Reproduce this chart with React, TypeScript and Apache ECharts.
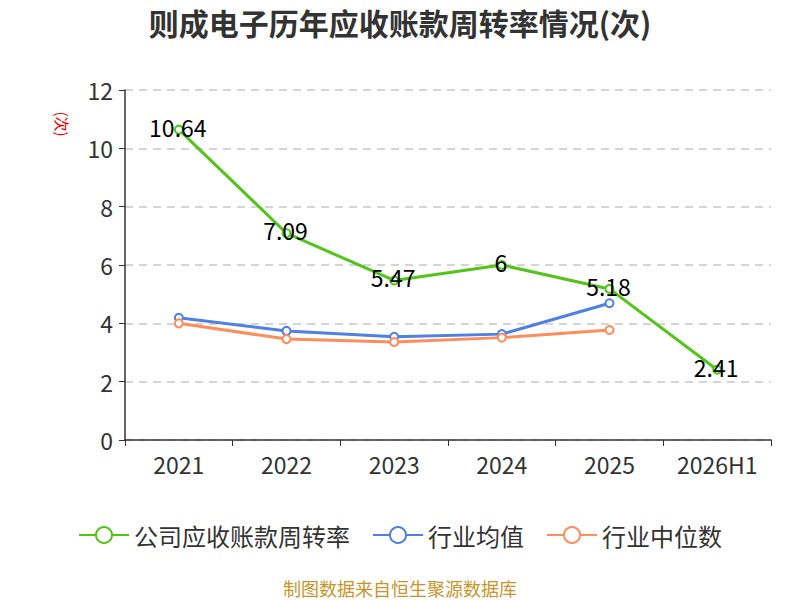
import React, { useEffect, useRef } from 'react';
import * as echarts from 'echarts';

const categories = ['2021', '2022', '2023', '2024', '2025', '2026H1'];
const companyTurnover = [10.64, 7.09, 5.47, 6, 5.18, 2.41];
const industryAverage = [4.19, 3.74, 3.54, 3.63, 4.69];
const industryMedian = [4.0, 3.46, 3.36, 3.51, 3.77];

const FONT = '"Noto Sans CJK SC", "Noto Sans", sans-serif';

const App: React.FC = () => {
  const chartRef = useRef<HTMLDivElement>(null);

  useEffect(() => {
    if (!chartRef.current) {
      return;
    }
    document.body.style.margin = '0';
    const chart = echarts.init(chartRef.current, null, { renderer: 'svg' });

    const lineSeries = (name: string, data: number[], color: string, withLabel: boolean) => ({
      name,
      type: 'line' as const,
      data,
      symbol: 'emptyCircle',
      symbolSize: 8,
      lineStyle: { color, width: 3 },
      itemStyle: { color, borderWidth: 1.5 },
      label: withLabel
        ? {
            show: true,
            position: 'inside' as const,
            offset: [-1, -3],
            color: '#000',
            fontSize: 23,
            fontFamily: FONT
          }
        : { show: false }
    });

    chart.setOption({
      animation: false,
      backgroundColor: '#fff',
      textStyle: { fontFamily: FONT },
      title: {
        text: '则成电子历年应收账款周转率情况(次)',
        left: 'center',
        top: 2,
        textStyle: { fontSize: 30, fontWeight: 'bold', color: '#333', fontFamily: FONT }
      },
      grid: { left: 125, right: 29, top: 90, bottom: 160 },
      legend: {
        bottom: 48,
        left: 'center',
        itemWidth: 50,
        itemHeight: 20,
        itemGap: 22,
        textStyle: { fontSize: 24, color: '#333', fontFamily: FONT },
        data: ['公司应收账款周转率', '行业均值', '行业中位数']
      },
      xAxis: {
        type: 'category',
        data: categories,
        boundaryGap: true,
        axisLine: { lineStyle: { color: '#333', width: 1.5 } },
        axisTick: { show: true, length: 6, lineStyle: { color: '#333' } },
        axisLabel: { fontSize: 23, color: '#333', margin: 12, fontFamily: FONT }
      },
      yAxis: {
        type: 'value',
        min: 0,
        max: 12,
        interval: 2,
        axisLine: { show: true, lineStyle: { color: '#333', width: 1.5 } },
        axisTick: { show: true, length: 6, lineStyle: { color: '#333' } },
        axisLabel: { fontSize: 23, color: '#333', margin: 12, fontFamily: FONT },
        splitLine: { lineStyle: { color: '#c8c8c8', type: [8, 6], width: 1.5 } }
      },
      series: [
        lineSeries('公司应收账款周转率', companyTurnover, '#52c41a', true),
        lineSeries('行业均值', industryAverage, '#4e80e6', false),
        lineSeries('行业中位数', industryMedian, '#ff8c5c', false)
      ],
      graphic: [
        {
          type: 'text',
          x: 62,
          y: 124,
          rotation: -Math.PI / 2,
          style: {
            text: '(次)',
            fill: '#e00',
            fontSize: 15,
            fontFamily: FONT,
            align: 'center',
            verticalAlign: 'middle'
          }
        },
        {
          type: 'text',
          left: 'center',
          top: 579,
          style: {
            text: '制图数据来自恒生聚源数据库',
            fill: '#c8952a',
            fontSize: 18,
            fontFamily: FONT
          }
        }
      ]
    });

    return () => {
      chart.dispose();
    };
  }, []);

  return <div ref={chartRef} style={{ width: 800, height: 600 }} />;
};

export default App;
